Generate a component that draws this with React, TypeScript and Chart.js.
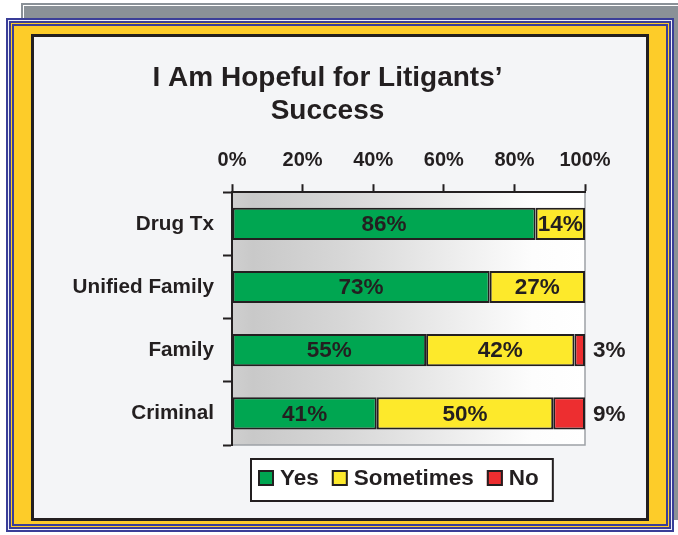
import React, { useEffect, useRef } from "react";
import { Chart, registerables } from "chart.js";

Chart.register(...registerables);

const categories = ["Drug Tx", "Unified Family", "Family", "Criminal"];
const seriesNames = ["Yes", "Sometimes", "No"];
const yesValues = [86, 73, 55, 41];
const sometimesValues = [14, 27, 42, 50];
const noValues = [0, 0, 3, 9];
const xTicks = [0, 20, 40, 60, 80, 100];
const titleLines = ["I Am Hopeful for Litigants\u2019", "Success"];

const FONT = '"Liberation Sans", Arial, Helvetica, sans-serif';
const INK = "#231f20";
const seriesColors = ["#00a651", "#fde92b", "#ed2e30"];

const bgPlugin = {
  id: "plotBackground",
  beforeDraw(chart: any) {
    const { ctx, chartArea } = chart;
    const { left, right, top, bottom } = chartArea;
    ctx.save();
    const g = ctx.createLinearGradient(left, 0, right, 0);
    g.addColorStop(0, "#cfcfcf");
    g.addColorStop(0.06, "#c9c9c9");
    g.addColorStop(0.3, "#d6d6d6");
    g.addColorStop(0.6, "#ebebeb");
    g.addColorStop(0.85, "#fdfdfd");
    g.addColorStop(1, "#ffffff");
    ctx.fillStyle = g;
    ctx.fillRect(left, top, right - left, bottom - top);
    ctx.strokeStyle = "#9da1a6";
    ctx.lineWidth = 1.5;
    ctx.beginPath();
    ctx.moveTo(right, top);
    ctx.lineTo(right, bottom);
    ctx.lineTo(left, bottom);
    ctx.stroke();
    ctx.restore();
  },
};

const valueLabelPlugin = {
  id: "valueLabels",
  afterDatasetsDraw(chart: any) {
    const { ctx, chartArea } = chart;
    ctx.save();
    ctx.font = `bold 22.5px ${FONT}`;
    ctx.fillStyle = INK;
    ctx.textBaseline = "middle";
    chart.data.datasets.forEach((ds: any, di: number) => {
      const meta = chart.getDatasetMeta(di);
      meta.data.forEach((bar: any, i: number) => {
        const v = ds.data[i];
        if (!v) return;
        const { x, y, base } = bar.getProps(["x", "y", "base"], true);
        const text = `${v}%`;
        if (di === 2) {
          ctx.textAlign = "left";
          ctx.fillText(text, chartArea.right + 8, y + 1);
        } else {
          ctx.textAlign = "center";
          ctx.fillText(text, (x + base) / 2, y + 1);
        }
      });
    });
    ctx.restore();
  },
};

const legendPlugin = {
  id: "boxLegend",
  afterDraw(chart: any) {
    const { ctx, chartArea } = chart;
    ctx.save();
    ctx.font = `bold 22.5px ${FONT}`;
    const pad = 7;
    const sq = 16;
    const gapText = 6;
    const gapItem = 13;
    const padR = 14;
    const items = chart.data.datasets.map((d: any) => ({
      text: d.label,
      color: d.backgroundColor,
      w: ctx.measureText(d.label).width,
    }));
    const width =
      pad +
      items.reduce((s: number, it: any) => s + sq + gapText + it.w, 0) +
      gapItem * (items.length - 1) +
      padR;
    const left = chartArea.left + 19;
    const top = chartArea.bottom + 14;
    const height = 42;
    ctx.fillStyle = "#ffffff";
    ctx.fillRect(left, top, width, height);
    ctx.lineWidth = 2;
    ctx.strokeStyle = INK;
    ctx.strokeRect(left, top, width, height);
    const cy = top + height / 2;
    let x = left + pad;
    items.forEach((it: any) => {
      const sy = cy - 10;
      ctx.fillStyle = it.color;
      ctx.fillRect(x, sy, sq, sq);
      ctx.strokeStyle = INK;
      ctx.lineWidth = 2;
      ctx.strokeRect(x + 1, sy + 1, sq - 2, sq - 2);
      ctx.fillStyle = INK;
      ctx.textAlign = "left";
      ctx.textBaseline = "middle";
      ctx.fillText(it.text, x + sq + gapText, cy - 1);
      x += sq + gapText + it.w + gapItem;
    });
    ctx.restore();
  },
};

export default function App() {
  const ref = useRef<HTMLCanvasElement>(null);

  useEffect(() => {
    if (!ref.current) return;
    const barStyle = {
      borderColor: INK,
      borderWidth: 2,
      borderSkipped: false,
      barPercentage: 0.51,
      categoryPercentage: 1,
    };
    const chart = new Chart(ref.current, {
      type: "bar",
      data: {
        labels: categories,
        datasets: [
          { label: seriesNames[0], data: yesValues, backgroundColor: seriesColors[0], ...barStyle },
          { label: seriesNames[1], data: sometimesValues, backgroundColor: seriesColors[1], ...barStyle },
          { label: seriesNames[2], data: noValues, backgroundColor: seriesColors[2], ...barStyle },
        ] as any,
      },
      options: {
        indexAxis: "y",
        responsive: false,
        animation: false,
        devicePixelRatio: 1,
        layout: { padding: { left: 70, right: 93, top: 40, bottom: 90 } },
        plugins: {
          legend: { display: false },
          tooltip: { enabled: false },
          title: {
            display: true,
            text: titleLines,
            color: INK,
            font: { family: FONT, size: 28, weight: "bold", lineHeight: 1.2 },
            padding: { top: 21, bottom: 20 },
          },
        },
        scales: {
          x: {
            position: "top",
            stacked: true,
            min: 0,
            max: 100,
            afterBuildTicks: (s: any) => {
              s.ticks = xTicks.map((v) => ({ value: v }));
            },
            afterFit: (s: any) => {
              s.height = 44;
            },
            ticks: {
              callback: (v: any) => `${v}%`,
              color: INK,
              font: { family: FONT, size: 20, weight: "bold" },
              padding: 12,
              maxRotation: 0,
            },
            grid: {
              drawOnChartArea: false,
              tickLength: 8,
              tickColor: INK,
              tickWidth: 2,
            },
            border: { color: INK, width: 2 },
          },
          y: {
            stacked: true,
            afterFit: (s: any) => {
              s.width = 162;
            },
            ticks: {
              color: INK,
              font: { family: FONT, size: 20.7, weight: "bold" },
              padding: 9,
            },
            grid: {
              drawOnChartArea: false,
              offset: true,
              tickLength: 9,
              tickColor: INK,
              tickWidth: 2,
            },
            border: { color: INK, width: 2 },
          },
        },
      } as any,
      plugins: [bgPlugin, valueLabelPlugin, legendPlugin],
    });
    return () => chart.destroy();
  }, []);

  const blue = "#3a3e98";
  const yellow = "#fdcc29";

  return (
    <div
      style={{
        position: "absolute",
        left: 0,
        top: 0,
        width: 678,
        height: 535,
        overflow: "hidden",
        background: "#ffffff",
      }}
    >
      <div
        style={{
          position: "absolute",
          left: 21,
          top: 3,
          width: 680,
          height: 517,
          background: "#8a9197",
        }}
      >
        <div
          style={{
            position: "absolute",
            left: 2,
            top: 2,
            right: 0,
            bottom: 0,
            borderTop: "1px solid #ffffff",
            borderLeft: "1px solid #ffffff",
          }}
        />
      </div>
      <div
        style={{
          position: "absolute",
          left: 6,
          top: 18,
          width: 668,
          height: 514,
          boxSizing: "border-box",
          border: `2px solid ${blue}`,
          padding: 1,
          background: "#eef0f8",
        }}
      >
        <div
          style={{
            width: "100%",
            height: "100%",
            boxSizing: "border-box",
            border: `2px solid ${blue}`,
            padding: 1,
            background: yellow,
          }}
        >
          <div
            style={{
              width: "100%",
              height: "100%",
              boxSizing: "border-box",
              border: `2px solid ${blue}`,
              background: yellow,
            }}
          />
        </div>
      </div>
      <div
        style={{
          position: "absolute",
          left: 31,
          top: 34,
          width: 618,
          height: 487,
          boxSizing: "border-box",
          border: `3px solid ${INK}`,
          background: "#f4f5f7",
        }}
      />
      <canvas
        ref={ref}
        width={678}
        height={535}
        style={{ position: "absolute", left: 0, top: 0, width: 678, height: 535 }}
      />
    </div>
  );
}
